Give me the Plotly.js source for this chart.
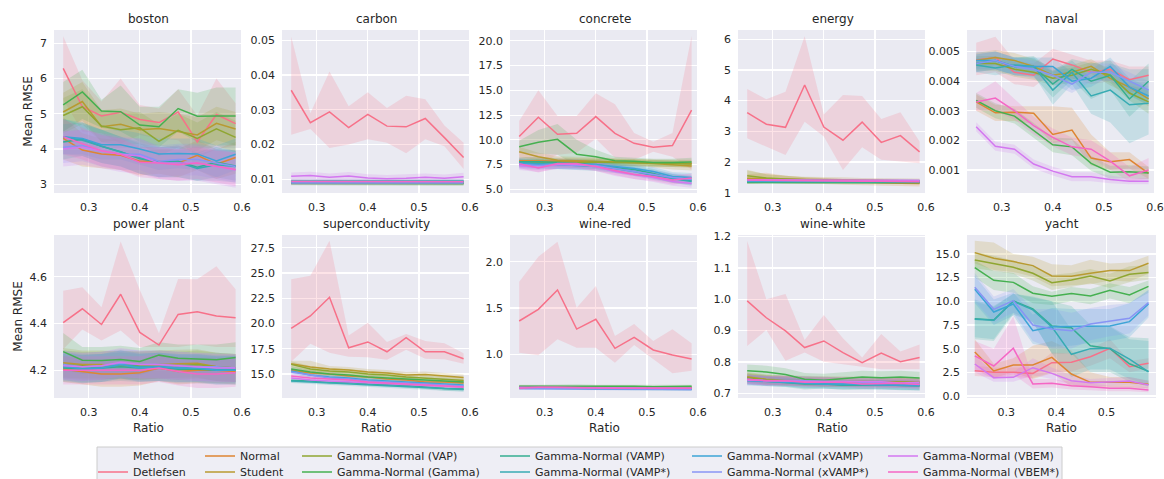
<!DOCTYPE html>
<html>
<head>
<meta charset="utf-8">
<script src="https://cdn.plot.ly/plotly-3.0.1.min.js"></script>
<style>html,body{margin:0;padding:0;background:#fff}</style>
</head>
<body>
<div id="chart" style="width:1164px;height:479px"></div>
<script>
// Ratio values (x) shared by most datasets; yacht uses its own grid
const ratio = [0.25, 0.2875, 0.325, 0.3625, 0.4, 0.4375, 0.475, 0.5125, 0.55, 0.5875];
const ratioYacht = [0.237, 0.275, 0.314, 0.353, 0.391, 0.430, 0.468, 0.507, 0.546, 0.584];

const methods = ["Detlefsen", "Normal", "Student", "Gamma-Normal (VAP)", "Gamma-Normal (Gamma)",
  "Gamma-Normal (VAMP)", "Gamma-Normal (VAMP*)", "Gamma-Normal (xVAMP)", "Gamma-Normal (xVAMP*)",
  "Gamma-Normal (VBEM)", "Gamma-Normal (VBEM*)"];

// Rows of every matrix below follow the order of `methods`
const bostonMean = [
  [6.29, 5.2, 4.94, 5.04, 4.84, 4.75, 5.05, 4.2, 4.98, 4.72],
  [4.3, 3.97, 3.86, 3.82, 3.65, 3.65, 3.6, 3.82, 3.57, 3.76],
  [5.05, 5.35, 4.63, 4.7, 4.55, 4.58, 4.5, 4.4, 4.73, 4.57],
  [4.95, 5.2, 4.65, 4.55, 4.6, 4.22, 4.53, 4.3, 4.57, 4.33],
  [5.25, 5.62, 5.08, 5.06, 4.68, 4.63, 5.15, 4.93, 4.94, 4.94],
  [4.2, 4.28, 4.08, 3.92, 3.72, 3.63, 3.65, 3.48, 3.62, 3.52],
  [4.35, 4.25, 4.08, 3.92, 3.75, 3.62, 3.62, 3.45, 3.55, 3.5],
  [4.35, 4.3, 4.12, 4.12, 4.0, 3.86, 3.87, 3.86, 3.66, 3.85],
  [4.05, 4.1, 3.95, 3.85, 3.85, 3.65, 3.7, 3.7, 3.6, 3.5],
  [4.0, 4.05, 3.95, 3.85, 3.8, 3.6, 3.6, 3.6, 3.5, 3.4],
  [4.35, 4.15, 3.95, 3.85, 3.62, 3.6, 3.55, 3.6, 3.5, 3.42]
];
const bostonLow = [
  [5.4, 4.5, 4.45, 4.15, 4.4, 4.3, 4.25, 3.75, 4.0, 4.1],
  [3.7, 3.5, 3.45, 3.4, 3.25, 3.3, 3.2, 3.4, 3.15, 3.3],
  [4.5, 4.8, 4.2, 4.25, 4.1, 4.1, 4.0, 3.95, 4.25, 4.1],
  [4.45, 4.7, 4.2, 4.1, 4.15, 3.8, 4.05, 3.85, 4.1, 3.9],
  [4.5, 4.85, 4.6, 4.5, 4.2, 4.05, 4.5, 4.2, 4.1, 4.1],
  [3.7, 3.8, 3.6, 3.5, 3.3, 3.2, 3.2, 3.1, 3.2, 3.1],
  [3.85, 3.8, 3.6, 3.5, 3.3, 3.2, 3.2, 3.1, 3.1, 3.05],
  [3.85, 3.85, 3.7, 3.7, 3.55, 3.4, 3.45, 3.4, 3.2, 3.4],
  [3.6, 3.65, 3.5, 3.4, 3.4, 3.2, 3.25, 3.25, 3.15, 3.05],
  [3.5, 3.55, 3.45, 3.35, 3.3, 3.15, 3.1, 3.1, 3.0, 2.9],
  [3.85, 3.7, 3.5, 3.4, 3.2, 3.15, 3.1, 3.15, 3.05, 2.95]
];
const bostonHigh = [
  [7.2, 5.95, 5.35, 6.0, 5.25, 5.15, 5.7, 4.95, 6.0, 5.3],
  [4.9, 4.45, 4.3, 4.25, 4.1, 4.0, 4.0, 4.25, 4.0, 4.2],
  [5.6, 5.9, 5.1, 5.15, 5.0, 5.05, 5.0, 4.9, 5.2, 5.05],
  [5.45, 5.7, 5.1, 5.0, 5.05, 4.7, 5.0, 4.75, 5.05, 4.8],
  [5.9, 6.25, 5.4, 5.8, 5.2, 5.2, 5.7, 5.6, 5.75, 5.75],
  [4.7, 4.75, 4.55, 4.35, 4.15, 4.05, 4.1, 3.9, 4.05, 3.95],
  [4.85, 4.7, 4.55, 4.35, 4.2, 4.05, 4.05, 3.85, 4.0, 3.95],
  [4.85, 4.75, 4.55, 4.55, 4.45, 4.3, 4.3, 4.3, 4.1, 4.3],
  [4.5, 4.55, 4.4, 4.3, 4.3, 4.1, 4.15, 4.15, 4.05, 3.95],
  [4.5, 4.55, 4.45, 4.35, 4.3, 4.05, 4.1, 4.1, 4.0, 3.9],
  [4.85, 4.6, 4.4, 4.3, 4.05, 4.05, 4.0, 4.05, 3.95, 3.9]
];

const carbonMean = [
  [0.0356, 0.0263, 0.0294, 0.0249, 0.0287, 0.0253, 0.0251, 0.0275, 0.0220, 0.0163],
  [0.0091, 0.0091, 0.0090, 0.0091, 0.0090, 0.0090, 0.0091, 0.0090, 0.0090, 0.0090],
  [0.0092, 0.0092, 0.0091, 0.0092, 0.0091, 0.0091, 0.0091, 0.0091, 0.0091, 0.0091],
  [0.0090, 0.0090, 0.0090, 0.0090, 0.0089, 0.0089, 0.0089, 0.0089, 0.0089, 0.0089],
  [0.0089, 0.0089, 0.0089, 0.0089, 0.0089, 0.0088, 0.0088, 0.0088, 0.0088, 0.0088],
  [0.0093, 0.0093, 0.0093, 0.0093, 0.0093, 0.0093, 0.0093, 0.0093, 0.0093, 0.0094],
  [0.0095, 0.0095, 0.0095, 0.0095, 0.0095, 0.0095, 0.0095, 0.0095, 0.0095, 0.0095],
  [0.0092, 0.0092, 0.0092, 0.0092, 0.0092, 0.0092, 0.0092, 0.0092, 0.0092, 0.0092],
  [0.0090, 0.0090, 0.0090, 0.0090, 0.0090, 0.0090, 0.0090, 0.0090, 0.0090, 0.0090],
  [0.0109, 0.0111, 0.0106, 0.0110, 0.0104, 0.0102, 0.0103, 0.0106, 0.0103, 0.0108],
  [0.0094, 0.0094, 0.0093, 0.0094, 0.0093, 0.0093, 0.0093, 0.0093, 0.0093, 0.0093]
];
const carbonLow = [
  [0.0228, 0.0245, 0.0190, 0.0200, 0.0215, 0.0205, 0.0175, 0.0215, 0.0195, 0.0130],
  [0.0085, 0.0085, 0.0084, 0.0085, 0.0084, 0.0084, 0.0085, 0.0084, 0.0084, 0.0084],
  [0.0086, 0.0086, 0.0085, 0.0086, 0.0085, 0.0085, 0.0085, 0.0085, 0.0085, 0.0085],
  [0.0084, 0.0084, 0.0084, 0.0084, 0.0083, 0.0083, 0.0083, 0.0083, 0.0083, 0.0083],
  [0.0083, 0.0083, 0.0083, 0.0083, 0.0083, 0.0082, 0.0082, 0.0082, 0.0082, 0.0082],
  [0.0087, 0.0087, 0.0087, 0.0087, 0.0087, 0.0087, 0.0087, 0.0087, 0.0087, 0.0088],
  [0.0089, 0.0089, 0.0089, 0.0089, 0.0089, 0.0089, 0.0089, 0.0089, 0.0089, 0.0089],
  [0.0086, 0.0086, 0.0086, 0.0086, 0.0086, 0.0086, 0.0086, 0.0086, 0.0086, 0.0086],
  [0.0084, 0.0084, 0.0084, 0.0084, 0.0084, 0.0084, 0.0084, 0.0084, 0.0084, 0.0084],
  [0.0098, 0.0100, 0.0095, 0.0099, 0.0093, 0.0091, 0.0092, 0.0095, 0.0092, 0.0097],
  [0.0088, 0.0088, 0.0087, 0.0088, 0.0087, 0.0087, 0.0087, 0.0087, 0.0087, 0.0087]
];
const carbonHigh = [
  [0.0510, 0.0290, 0.0410, 0.0310, 0.0350, 0.0305, 0.0340, 0.0330, 0.0255, 0.0205],
  [0.0097, 0.0097, 0.0096, 0.0097, 0.0096, 0.0096, 0.0097, 0.0096, 0.0096, 0.0096],
  [0.0098, 0.0098, 0.0097, 0.0098, 0.0097, 0.0097, 0.0097, 0.0097, 0.0097, 0.0097],
  [0.0096, 0.0096, 0.0096, 0.0096, 0.0095, 0.0095, 0.0095, 0.0095, 0.0095, 0.0095],
  [0.0095, 0.0095, 0.0095, 0.0095, 0.0095, 0.0094, 0.0094, 0.0094, 0.0094, 0.0094],
  [0.0099, 0.0099, 0.0099, 0.0099, 0.0099, 0.0099, 0.0099, 0.0099, 0.0099, 0.0100],
  [0.0101, 0.0101, 0.0101, 0.0101, 0.0101, 0.0101, 0.0101, 0.0101, 0.0101, 0.0101],
  [0.0098, 0.0098, 0.0098, 0.0098, 0.0098, 0.0098, 0.0098, 0.0098, 0.0098, 0.0098],
  [0.0096, 0.0096, 0.0096, 0.0096, 0.0096, 0.0096, 0.0096, 0.0096, 0.0096, 0.0096],
  [0.0120, 0.0122, 0.0117, 0.0121, 0.0115, 0.0113, 0.0114, 0.0117, 0.0114, 0.0119],
  [0.0100, 0.0100, 0.0099, 0.0100, 0.0099, 0.0099, 0.0099, 0.0099, 0.0099, 0.0099]
];

const concreteMean = [
  [10.33, 12.28, 10.56, 10.66, 12.35, 10.66, 9.65, 9.25, 9.42, 13.0],
  [7.9, 7.9, 7.85, 7.85, 7.8, 7.75, 7.7, 7.65, 7.6, 7.6],
  [8.8, 8.3, 7.95, 7.9, 7.85, 7.8, 7.7, 7.6, 7.45, 7.35],
  [7.7, 7.75, 7.75, 7.7, 7.75, 7.7, 7.7, 7.65, 7.6, 7.55],
  [9.3, 9.75, 10.05, 8.55, 8.3, 7.9, 7.85, 7.7, 7.7, 7.75],
  [7.8, 7.8, 7.7, 7.6, 7.5, 7.2, 7.0, 6.6, 6.1, 5.9],
  [7.7, 7.6, 7.5, 7.4, 7.3, 7.1, 6.8, 6.4, 6.1, 5.8],
  [7.6, 7.5, 7.5, 7.5, 7.5, 7.3, 7.1, 6.8, 6.3, 6.2],
  [7.5, 7.4, 7.5, 7.4, 7.4, 7.1, 6.8, 6.5, 6.2, 6.0],
  [7.4, 7.2, 7.5, 7.5, 7.3, 6.8, 6.5, 6.2, 5.8, 5.6],
  [7.6, 7.15, 7.6, 7.6, 7.3, 6.9, 6.5, 6.3, 5.95, 6.15]
];
const concreteLow = [
  [7.8, 7.5, 8.5, 8.7, 10.1, 8.2, 8.0, 8.8, 8.3, 7.0],
  [7.55, 7.55, 7.5, 7.5, 7.45, 7.4, 7.35, 7.3, 7.2, 7.2],
  [8.3, 7.9, 7.55, 7.5, 7.45, 7.4, 7.3, 7.2, 7.0, 6.9],
  [7.35, 7.4, 7.4, 7.35, 7.4, 7.35, 7.35, 7.3, 7.25, 7.2],
  [8.7, 8.6, 8.5, 7.4, 7.6, 7.5, 7.5, 7.3, 7.3, 7.3],
  [7.35, 7.35, 7.25, 7.15, 7.05, 6.75, 6.55, 6.15, 5.65, 5.45],
  [7.25, 7.15, 7.05, 6.95, 6.85, 6.65, 6.35, 5.95, 5.65, 5.35],
  [7.15, 7.05, 7.05, 7.05, 7.05, 6.85, 6.65, 6.35, 5.85, 5.75],
  [7.05, 6.95, 7.05, 6.95, 6.95, 6.65, 6.35, 6.05, 5.75, 5.55],
  [6.95, 6.75, 7.05, 7.05, 6.85, 6.35, 6.05, 5.75, 5.35, 5.15],
  [7.15, 6.7, 7.15, 7.15, 6.85, 6.45, 6.05, 5.85, 5.5, 5.7]
];
const concreteHigh = [
  [11.9, 15.0, 12.4, 12.4, 14.7, 13.6, 10.7, 9.8, 10.7, 20.5],
  [8.25, 8.25, 8.2, 8.2, 8.15, 8.1, 8.05, 8.0, 8.0, 8.0],
  [9.3, 8.7, 8.35, 8.3, 8.25, 8.2, 8.1, 8.0, 7.9, 7.8],
  [8.05, 8.1, 8.1, 8.05, 8.1, 8.05, 8.05, 8.0, 7.95, 7.9],
  [9.9, 11.0, 11.6, 10.0, 9.0, 8.3, 8.2, 8.1, 8.1, 8.2],
  [8.25, 8.25, 8.15, 8.05, 7.95, 7.65, 7.45, 7.05, 6.55, 6.35],
  [8.15, 8.05, 7.95, 7.85, 7.75, 7.55, 7.25, 6.85, 6.55, 6.25],
  [8.05, 7.95, 7.95, 7.95, 7.95, 7.75, 7.55, 7.25, 6.75, 6.65],
  [7.95, 7.85, 7.95, 7.85, 7.85, 7.55, 7.25, 6.95, 6.65, 6.45],
  [7.85, 7.65, 7.95, 7.95, 7.75, 7.25, 6.95, 6.65, 6.25, 6.05],
  [8.05, 7.6, 8.05, 8.05, 7.75, 7.35, 6.95, 6.75, 6.4, 6.6]
];

const energyMean = [
  [3.61, 3.23, 3.13, 4.51, 3.14, 2.71, 3.30, 2.64, 2.86, 2.33],
  [1.45, 1.45, 1.42, 1.40, 1.38, 1.35, 1.33, 1.32, 1.31, 1.30],
  [1.47, 1.45, 1.44, 1.43, 1.42, 1.41, 1.40, 1.39, 1.38, 1.38],
  [1.55, 1.48, 1.45, 1.42, 1.40, 1.38, 1.37, 1.37, 1.36, 1.36],
  [1.33, 1.33, 1.33, 1.32, 1.32, 1.33, 1.33, 1.32, 1.32, 1.32],
  [1.35, 1.35, 1.34, 1.34, 1.33, 1.33, 1.34, 1.34, 1.35, 1.35],
  [1.37, 1.37, 1.36, 1.36, 1.35, 1.35, 1.36, 1.36, 1.36, 1.36],
  [1.38, 1.38, 1.38, 1.39, 1.40, 1.40, 1.38, 1.38, 1.38, 1.37],
  [1.40, 1.40, 1.39, 1.39, 1.39, 1.38, 1.38, 1.38, 1.38, 1.38],
  [1.42, 1.42, 1.41, 1.41, 1.41, 1.40, 1.40, 1.40, 1.40, 1.40],
  [1.41, 1.40, 1.40, 1.40, 1.38, 1.38, 1.37, 1.37, 1.37, 1.36]
];
const energyLow = [
  [2.77, 2.50, 2.23, 3.31, 2.83, 1.74, 2.48, 2.07, 2.01, 1.96],
  [1.30, 1.32, 1.30, 1.30, 1.28, 1.26, 1.24, 1.23, 1.22, 1.20],
  [1.30, 1.33, 1.34, 1.34, 1.33, 1.32, 1.32, 1.31, 1.30, 1.30],
  [1.38, 1.36, 1.35, 1.34, 1.33, 1.32, 1.31, 1.31, 1.30, 1.30],
  [1.29, 1.29, 1.29, 1.28, 1.28, 1.29, 1.29, 1.28, 1.28, 1.28],
  [1.31, 1.31, 1.30, 1.30, 1.29, 1.29, 1.30, 1.30, 1.31, 1.31],
  [1.32, 1.32, 1.31, 1.31, 1.30, 1.30, 1.31, 1.31, 1.31, 1.31],
  [1.33, 1.33, 1.33, 1.34, 1.35, 1.35, 1.33, 1.33, 1.33, 1.32],
  [1.35, 1.35, 1.34, 1.34, 1.34, 1.33, 1.33, 1.33, 1.33, 1.33],
  [1.37, 1.37, 1.36, 1.36, 1.36, 1.35, 1.35, 1.35, 1.35, 1.35],
  [1.36, 1.35, 1.35, 1.35, 1.33, 1.33, 1.32, 1.32, 1.32, 1.31]
];
const energyHigh = [
  [4.38, 4.04, 4.29, 6.10, 3.55, 4.18, 4.15, 3.40, 3.62, 2.67],
  [1.60, 1.65, 1.55, 1.50, 1.48, 1.45, 1.43, 1.42, 1.41, 1.40],
  [1.75, 1.60, 1.55, 1.52, 1.50, 1.50, 1.48, 1.47, 1.46, 1.46],
  [1.72, 1.60, 1.55, 1.50, 1.47, 1.45, 1.43, 1.43, 1.42, 1.42],
  [1.37, 1.37, 1.37, 1.36, 1.36, 1.37, 1.37, 1.36, 1.36, 1.36],
  [1.39, 1.39, 1.38, 1.38, 1.37, 1.37, 1.38, 1.38, 1.39, 1.39],
  [1.42, 1.42, 1.41, 1.41, 1.40, 1.40, 1.41, 1.41, 1.41, 1.41],
  [1.43, 1.43, 1.43, 1.44, 1.45, 1.45, 1.43, 1.43, 1.43, 1.42],
  [1.45, 1.45, 1.44, 1.44, 1.44, 1.43, 1.43, 1.43, 1.43, 1.43],
  [1.47, 1.47, 1.46, 1.46, 1.46, 1.45, 1.45, 1.45, 1.45, 1.45],
  [1.46, 1.45, 1.45, 1.45, 1.43, 1.43, 1.42, 1.42, 1.42, 1.41]
];

const navalMean = [
  [0.00472, 0.00480, 0.00430, 0.00420, 0.00475, 0.00455, 0.00430, 0.00440, 0.00405, 0.00420],
  [0.00330, 0.00293, 0.00295, 0.00292, 0.00220, 0.00235, 0.00140, 0.00128, 0.00135, 0.00088],
  [0.00470, 0.00480, 0.00470, 0.00450, 0.00420, 0.00430, 0.00450, 0.00410, 0.00380, 0.00340],
  [0.00460, 0.00460, 0.00440, 0.00430, 0.00410, 0.00420, 0.00440, 0.00420, 0.00360, 0.00330],
  [0.00335, 0.00300, 0.00282, 0.00232, 0.00185, 0.00178, 0.00122, 0.00092, 0.00094, 0.00090],
  [0.00460, 0.00470, 0.00450, 0.00450, 0.00390, 0.00440, 0.00400, 0.00420, 0.00340, 0.00400],
  [0.00455, 0.00445, 0.00455, 0.00450, 0.00370, 0.00430, 0.00350, 0.00370, 0.00320, 0.00325],
  [0.00470, 0.00470, 0.00450, 0.00450, 0.00450, 0.00400, 0.00410, 0.00450, 0.00380, 0.00350],
  [0.00460, 0.00470, 0.00450, 0.00440, 0.00420, 0.00390, 0.00430, 0.00430, 0.00400, 0.00370],
  [0.00246, 0.00180, 0.00170, 0.00120, 0.00096, 0.00077, 0.00077, 0.00068, 0.00062, 0.00062],
  [0.00330, 0.00343, 0.00300, 0.00250, 0.00210, 0.00178, 0.00170, 0.00130, 0.00080, 0.00100]
];
const navalLow = [
  [0.00420, 0.00430, 0.00390, 0.00380, 0.00430, 0.00410, 0.00390, 0.00400, 0.00360, 0.00380],
  [0.00300, 0.00265, 0.00265, 0.00255, 0.00190, 0.00200, 0.00115, 0.00100, 0.00105, 0.00070],
  [0.00445, 0.00455, 0.00445, 0.00425, 0.00395, 0.00405, 0.00425, 0.00385, 0.00355, 0.00315],
  [0.00435, 0.00435, 0.00415, 0.00405, 0.00385, 0.00395, 0.00415, 0.00395, 0.00335, 0.00290],
  [0.00310, 0.00275, 0.00257, 0.00207, 0.00160, 0.00150, 0.00097, 0.00070, 0.00072, 0.00068],
  [0.00430, 0.00440, 0.00420, 0.00415, 0.00345, 0.00405, 0.00340, 0.00370, 0.00280, 0.00340],
  [0.00430, 0.00420, 0.00430, 0.00420, 0.00320, 0.00390, 0.00290, 0.00260, 0.00190, 0.00220],
  [0.00440, 0.00440, 0.00420, 0.00420, 0.00420, 0.00370, 0.00380, 0.00420, 0.00350, 0.00320],
  [0.00430, 0.00440, 0.00420, 0.00410, 0.00390, 0.00360, 0.00400, 0.00400, 0.00370, 0.00340],
  [0.00231, 0.00165, 0.00155, 0.00105, 0.00081, 0.00062, 0.00062, 0.00055, 0.00052, 0.00052],
  [0.00300, 0.00300, 0.00270, 0.00220, 0.00180, 0.00150, 0.00140, 0.00100, 0.00060, 0.00070]
];
const navalHigh = [
  [0.00530, 0.00550, 0.00470, 0.00460, 0.00510, 0.00490, 0.00470, 0.00470, 0.00450, 0.00450],
  [0.00355, 0.00320, 0.00315, 0.00315, 0.00315, 0.00310, 0.00220, 0.00160, 0.00160, 0.00110],
  [0.00495, 0.00505, 0.00495, 0.00475, 0.00445, 0.00455, 0.00475, 0.00435, 0.00405, 0.00365],
  [0.00485, 0.00485, 0.00465, 0.00455, 0.00435, 0.00445, 0.00465, 0.00445, 0.00385, 0.00370],
  [0.00360, 0.00325, 0.00307, 0.00257, 0.00210, 0.00206, 0.00147, 0.00114, 0.00116, 0.00112],
  [0.00490, 0.00500, 0.00480, 0.00485, 0.00435, 0.00475, 0.00460, 0.00470, 0.00400, 0.00460],
  [0.00480, 0.00470, 0.00480, 0.00480, 0.00430, 0.00470, 0.00410, 0.00460, 0.00440, 0.00440],
  [0.00500, 0.00500, 0.00480, 0.00480, 0.00480, 0.00430, 0.00440, 0.00480, 0.00410, 0.00380],
  [0.00490, 0.00500, 0.00480, 0.00470, 0.00450, 0.00420, 0.00460, 0.00460, 0.00430, 0.00400],
  [0.00261, 0.00195, 0.00185, 0.00135, 0.00111, 0.00092, 0.00092, 0.00081, 0.00072, 0.00072],
  [0.00360, 0.00400, 0.00340, 0.00280, 0.00240, 0.00210, 0.00200, 0.00160, 0.00110, 0.00140]
];

const powerMean = [
  [4.404, 4.463, 4.396, 4.525, 4.362, 4.308, 4.439, 4.45, 4.432, 4.425],
  [4.205, 4.195, 4.185, 4.185, 4.19, 4.21, 4.195, 4.2, 4.2, 4.195],
  [4.232, 4.225, 4.225, 4.22, 4.22, 4.225, 4.228, 4.23, 4.215, 4.21],
  [4.225, 4.22, 4.22, 4.225, 4.22, 4.225, 4.22, 4.225, 4.215, 4.21],
  [4.28, 4.243, 4.242, 4.246, 4.238, 4.265, 4.252, 4.25, 4.245, 4.255],
  [4.21, 4.205, 4.21, 4.215, 4.21, 4.215, 4.205, 4.205, 4.2, 4.2],
  [4.215, 4.21, 4.21, 4.225, 4.215, 4.215, 4.21, 4.21, 4.205, 4.205],
  [4.22, 4.205, 4.21, 4.225, 4.21, 4.215, 4.21, 4.21, 4.2, 4.2],
  [4.225, 4.215, 4.22, 4.23, 4.225, 4.225, 4.22, 4.215, 4.215, 4.21],
  [4.22, 4.215, 4.22, 4.235, 4.225, 4.225, 4.22, 4.215, 4.21, 4.21],
  [4.2, 4.2, 4.2, 4.2, 4.2, 4.21, 4.195, 4.185, 4.185, 4.19]
];
const powerLow = [
  [4.29, 4.375, 4.327, 4.37, 4.30, 4.30, 4.30, 4.31, 4.30, 4.30],
  [4.15, 4.14, 4.13, 4.13, 4.135, 4.155, 4.14, 4.145, 4.145, 4.14],
  [4.17, 4.165, 4.165, 4.16, 4.16, 4.165, 4.168, 4.17, 4.155, 4.15],
  [4.165, 4.16, 4.16, 4.165, 4.16, 4.165, 4.16, 4.165, 4.155, 4.15],
  [4.2, 4.185, 4.185, 4.19, 4.18, 4.205, 4.195, 4.19, 4.185, 4.19],
  [4.15, 4.145, 4.15, 4.155, 4.15, 4.155, 4.145, 4.145, 4.14, 4.14],
  [4.155, 4.15, 4.15, 4.165, 4.155, 4.155, 4.15, 4.15, 4.145, 4.145],
  [4.16, 4.145, 4.15, 4.165, 4.15, 4.155, 4.15, 4.15, 4.14, 4.14],
  [4.165, 4.155, 4.16, 4.17, 4.165, 4.165, 4.16, 4.155, 4.155, 4.15],
  [4.16, 4.155, 4.16, 4.175, 4.165, 4.165, 4.16, 4.155, 4.15, 4.15],
  [4.14, 4.14, 4.14, 4.14, 4.14, 4.15, 4.135, 4.125, 4.125, 4.13]
];
const powerHigh = [
  [4.54, 4.555, 4.47, 4.75, 4.543, 4.358, 4.59, 4.589, 4.645, 4.546],
  [4.26, 4.25, 4.24, 4.24, 4.245, 4.265, 4.25, 4.255, 4.255, 4.25],
  [4.295, 4.285, 4.285, 4.28, 4.28, 4.285, 4.288, 4.29, 4.275, 4.27],
  [4.285, 4.28, 4.28, 4.285, 4.28, 4.285, 4.28, 4.285, 4.275, 4.27],
  [4.36, 4.3, 4.3, 4.305, 4.295, 4.32, 4.31, 4.31, 4.31, 4.32],
  [4.27, 4.265, 4.27, 4.275, 4.27, 4.275, 4.265, 4.265, 4.26, 4.26],
  [4.275, 4.27, 4.27, 4.285, 4.275, 4.275, 4.27, 4.27, 4.265, 4.265],
  [4.28, 4.265, 4.27, 4.285, 4.27, 4.275, 4.27, 4.27, 4.26, 4.26],
  [4.285, 4.275, 4.28, 4.29, 4.285, 4.285, 4.28, 4.275, 4.275, 4.27],
  [4.28, 4.275, 4.28, 4.295, 4.285, 4.285, 4.28, 4.275, 4.27, 4.27],
  [4.26, 4.26, 4.26, 4.26, 4.26, 4.27, 4.255, 4.245, 4.245, 4.25]
];

const superMean = [
  [19.52, 20.74, 22.59, 17.6, 18.17, 17.2, 18.6, 17.2, 17.2, 16.5],
  [15.4, 15.1, 15.0, 14.8, 14.7, 14.5, 14.4, 14.2, 14.2, 14.1],
  [16.0, 15.7, 15.5, 15.4, 15.2, 15.1, 14.9, 14.95, 14.8, 14.65],
  [15.95, 15.5, 15.3, 15.2, 15.0, 14.9, 14.7, 14.6, 14.5, 14.35],
  [15.5, 15.2, 15.0, 14.9, 14.7, 14.6, 14.45, 14.4, 14.3, 14.2],
  [14.35, 14.3, 14.15, 14.15, 14.0, 13.95, 13.85, 13.7, 13.55, 13.5],
  [14.3, 14.2, 14.1, 14.05, 13.95, 13.85, 13.75, 13.6, 13.5, 13.45],
  [15.3, 14.9, 14.7, 14.6, 14.4, 14.3, 14.2, 14.1, 14.0, 13.9],
  [15.2, 14.9, 14.6, 14.5, 14.3, 14.2, 14.1, 14.0, 13.9, 13.8],
  [14.6, 14.4, 14.3, 14.2, 14.1, 14.0, 13.9, 13.85, 13.8, 13.7],
  [14.8, 14.6, 14.5, 14.4, 14.2, 14.1, 14.0, 13.9, 13.8, 13.7]
];
const superLow = [
  [16.2, 18.0, 17.1, 16.7, 16.65, 16.4, 17.4, 16.5, 16.45, 16.0],
  [15.15, 14.85, 14.75, 14.55, 14.45, 14.25, 14.15, 13.95, 13.95, 13.85],
  [15.7, 15.3, 15.2, 15.1, 14.9, 14.8, 14.6, 14.65, 14.5, 14.35],
  [15.65, 15.2, 15.0, 14.9, 14.7, 14.6, 14.4, 14.3, 14.2, 14.05],
  [15.25, 14.95, 14.75, 14.65, 14.45, 14.35, 14.2, 14.15, 14.05, 13.95],
  [14.15, 14.1, 13.95, 13.95, 13.8, 13.75, 13.65, 13.5, 13.35, 13.3],
  [14.1, 14.0, 13.9, 13.85, 13.75, 13.65, 13.55, 13.4, 13.3, 13.25],
  [15.05, 14.65, 14.45, 14.35, 14.15, 14.05, 13.95, 13.85, 13.75, 13.65],
  [14.95, 14.65, 14.35, 14.25, 14.05, 13.95, 13.85, 13.75, 13.65, 13.55],
  [14.4, 14.2, 14.1, 14.0, 13.9, 13.8, 13.7, 13.65, 13.6, 13.5],
  [14.6, 14.4, 14.3, 14.2, 14.0, 13.9, 13.8, 13.7, 13.6, 13.5]
];
const superHigh = [
  [24.37, 24.73, 28.2, 18.8, 20.08, 18.17, 18.96, 18.27, 18.03, 17.05],
  [15.65, 15.35, 15.25, 15.05, 14.95, 14.75, 14.65, 14.45, 14.45, 14.35],
  [16.3, 16.3, 15.8, 15.7, 15.5, 15.4, 15.2, 15.25, 15.1, 14.95],
  [16.25, 15.8, 15.6, 15.5, 15.3, 15.2, 15.0, 14.9, 14.8, 14.65],
  [15.75, 15.45, 15.25, 15.15, 14.95, 14.85, 14.7, 14.65, 14.55, 14.45],
  [14.55, 14.5, 14.35, 14.35, 14.2, 14.15, 14.05, 13.9, 13.75, 13.7],
  [14.5, 14.4, 14.3, 14.25, 14.15, 14.05, 13.95, 13.8, 13.7, 13.65],
  [15.55, 15.15, 14.95, 14.85, 14.65, 14.55, 14.45, 14.35, 14.25, 14.15],
  [15.45, 15.15, 14.85, 14.75, 14.55, 14.45, 14.35, 14.25, 14.15, 14.05],
  [14.8, 14.6, 14.5, 14.4, 14.3, 14.2, 14.1, 14.05, 14.0, 13.9],
  [15.0, 14.8, 14.7, 14.6, 14.4, 14.3, 14.2, 14.1, 14.0, 13.9]
];

const wineRedMean = [
  [1.36, 1.486, 1.694, 1.273, 1.378, 1.065, 1.183, 1.047, 0.993, 0.95],
  [0.64, 0.645, 0.645, 0.64, 0.64, 0.638, 0.636, 0.635, 0.635, 0.634],
  [0.645, 0.645, 0.645, 0.642, 0.642, 0.64, 0.64, 0.638, 0.638, 0.637],
  [0.648, 0.65, 0.65, 0.648, 0.647, 0.645, 0.645, 0.644, 0.645, 0.645],
  [0.655, 0.655, 0.655, 0.66, 0.655, 0.655, 0.655, 0.65, 0.655, 0.655],
  [0.64, 0.64, 0.638, 0.636, 0.634, 0.632, 0.63, 0.629, 0.628, 0.627],
  [0.638, 0.638, 0.636, 0.634, 0.632, 0.63, 0.628, 0.627, 0.626, 0.625],
  [0.635, 0.636, 0.634, 0.632, 0.63, 0.628, 0.627, 0.625, 0.624, 0.623],
  [0.632, 0.633, 0.632, 0.63, 0.628, 0.626, 0.625, 0.624, 0.623, 0.622],
  [0.645, 0.645, 0.644, 0.642, 0.64, 0.639, 0.638, 0.637, 0.636, 0.636],
  [0.633, 0.645, 0.645, 0.638, 0.638, 0.635, 0.635, 0.635, 0.635, 0.635]
];
const wineRedLow = [
  [1.018, 0.99, 1.162, 1.072, 1.072, 0.91, 1.10, 0.95, 0.795, 0.824],
  [0.625, 0.63, 0.63, 0.625, 0.625, 0.623, 0.621, 0.62, 0.62, 0.619],
  [0.63, 0.63, 0.63, 0.627, 0.627, 0.625, 0.625, 0.623, 0.623, 0.622],
  [0.633, 0.635, 0.635, 0.633, 0.632, 0.63, 0.63, 0.629, 0.63, 0.63],
  [0.638, 0.638, 0.638, 0.643, 0.638, 0.638, 0.638, 0.633, 0.638, 0.638],
  [0.625, 0.625, 0.623, 0.621, 0.619, 0.617, 0.615, 0.614, 0.613, 0.612],
  [0.623, 0.623, 0.621, 0.619, 0.617, 0.615, 0.613, 0.612, 0.611, 0.61],
  [0.62, 0.621, 0.619, 0.617, 0.615, 0.613, 0.612, 0.61, 0.609, 0.608],
  [0.617, 0.618, 0.617, 0.615, 0.613, 0.611, 0.61, 0.609, 0.608, 0.607],
  [0.63, 0.63, 0.629, 0.627, 0.625, 0.624, 0.623, 0.622, 0.621, 0.621],
  [0.618, 0.63, 0.63, 0.623, 0.623, 0.62, 0.62, 0.62, 0.62, 0.62]
];
const wineRedHigh = [
  [1.784, 2.054, 2.216, 1.504, 1.737, 1.198, 1.327, 1.144, 1.27, 1.12],
  [0.655, 0.66, 0.66, 0.655, 0.655, 0.653, 0.651, 0.65, 0.65, 0.649],
  [0.66, 0.66, 0.66, 0.657, 0.657, 0.655, 0.655, 0.653, 0.653, 0.652],
  [0.663, 0.665, 0.665, 0.663, 0.662, 0.66, 0.66, 0.659, 0.66, 0.66],
  [0.672, 0.672, 0.672, 0.677, 0.672, 0.672, 0.672, 0.667, 0.672, 0.672],
  [0.655, 0.655, 0.653, 0.651, 0.649, 0.647, 0.645, 0.644, 0.643, 0.642],
  [0.653, 0.653, 0.651, 0.649, 0.647, 0.645, 0.643, 0.642, 0.641, 0.64],
  [0.65, 0.651, 0.649, 0.647, 0.645, 0.643, 0.642, 0.64, 0.639, 0.638],
  [0.647, 0.648, 0.647, 0.645, 0.643, 0.641, 0.64, 0.639, 0.638, 0.637],
  [0.66, 0.66, 0.659, 0.657, 0.655, 0.654, 0.653, 0.652, 0.651, 0.651],
  [0.648, 0.66, 0.66, 0.653, 0.653, 0.65, 0.65, 0.65, 0.65, 0.65]
];

const wineWhiteMean = [
  [0.995, 0.941, 0.899, 0.846, 0.867, 0.830, 0.798, 0.828, 0.801, 0.814],
  [0.748, 0.742, 0.74, 0.737, 0.736, 0.735, 0.734, 0.734, 0.733, 0.733],
  [0.753, 0.745, 0.742, 0.74, 0.738, 0.737, 0.738, 0.737, 0.736, 0.735],
  [0.75, 0.743, 0.74, 0.738, 0.737, 0.737, 0.737, 0.736, 0.735, 0.735],
  [0.772, 0.768, 0.76, 0.745, 0.742, 0.747, 0.752, 0.75, 0.752, 0.749],
  [0.742, 0.738, 0.735, 0.73, 0.73, 0.726, 0.726, 0.728, 0.725, 0.724],
  [0.745, 0.74, 0.738, 0.735, 0.73, 0.727, 0.728, 0.728, 0.726, 0.725],
  [0.74, 0.737, 0.735, 0.732, 0.73, 0.73, 0.728, 0.727, 0.726, 0.725],
  [0.745, 0.74, 0.742, 0.74, 0.738, 0.735, 0.735, 0.735, 0.733, 0.73],
  [0.742, 0.74, 0.74, 0.738, 0.738, 0.737, 0.737, 0.737, 0.733, 0.735],
  [0.745, 0.74, 0.74, 0.735, 0.735, 0.735, 0.73, 0.73, 0.732, 0.728]
];
const wineWhiteLow = [
  [0.851, 0.902, 0.804, 0.830, 0.801, 0.794, 0.785, 0.777, 0.777, 0.777],
  [0.733, 0.727, 0.725, 0.722, 0.721, 0.72, 0.719, 0.719, 0.718, 0.718],
  [0.738, 0.73, 0.727, 0.725, 0.723, 0.722, 0.723, 0.722, 0.721, 0.72],
  [0.735, 0.728, 0.725, 0.723, 0.722, 0.722, 0.722, 0.721, 0.72, 0.72],
  [0.752, 0.748, 0.74, 0.725, 0.722, 0.727, 0.732, 0.73, 0.732, 0.729],
  [0.727, 0.723, 0.72, 0.712, 0.715, 0.711, 0.711, 0.713, 0.71, 0.709],
  [0.73, 0.725, 0.723, 0.715, 0.715, 0.712, 0.713, 0.713, 0.711, 0.71],
  [0.725, 0.722, 0.72, 0.717, 0.715, 0.715, 0.713, 0.712, 0.711, 0.71],
  [0.73, 0.725, 0.727, 0.725, 0.723, 0.72, 0.72, 0.72, 0.718, 0.715],
  [0.727, 0.725, 0.725, 0.723, 0.723, 0.722, 0.722, 0.722, 0.718, 0.72],
  [0.73, 0.725, 0.725, 0.72, 0.72, 0.72, 0.715, 0.715, 0.717, 0.713]
];
const wineWhiteHigh = [
  [1.186, 1.0, 1.017, 0.870, 0.950, 0.876, 0.814, 0.889, 0.833, 0.856],
  [0.763, 0.757, 0.755, 0.752, 0.751, 0.75, 0.749, 0.749, 0.748, 0.748],
  [0.768, 0.76, 0.757, 0.755, 0.753, 0.752, 0.753, 0.752, 0.751, 0.75],
  [0.765, 0.758, 0.755, 0.753, 0.752, 0.752, 0.752, 0.751, 0.75, 0.75],
  [0.792, 0.788, 0.78, 0.765, 0.762, 0.767, 0.772, 0.77, 0.772, 0.769],
  [0.757, 0.753, 0.75, 0.745, 0.745, 0.741, 0.741, 0.743, 0.74, 0.739],
  [0.76, 0.755, 0.753, 0.75, 0.745, 0.742, 0.743, 0.743, 0.741, 0.74],
  [0.755, 0.752, 0.75, 0.747, 0.745, 0.745, 0.743, 0.742, 0.741, 0.74],
  [0.76, 0.755, 0.757, 0.755, 0.753, 0.75, 0.75, 0.75, 0.748, 0.745],
  [0.757, 0.755, 0.755, 0.753, 0.753, 0.752, 0.752, 0.752, 0.748, 0.75],
  [0.76, 0.755, 0.755, 0.75, 0.75, 0.75, 0.745, 0.745, 0.747, 0.743]
];

const yachtMean = [
  [2.68, 2.5, 2.5, 2.39, 3.52, 3.56, 4.15, 5.04, 3.1, 3.45],
  [4.65, 2.64, 3.27, 3.27, 4.08, 2.32, 1.44, 1.44, 1.44, 1.23],
  [15.14, 14.54, 14.19, 13.77, 12.68, 12.64, 12.96, 13.24, 13.24, 14.01],
  [14.37, 14.01, 13.59, 12.96, 11.97, 12.25, 12.68, 12.15, 12.85, 13.03],
  [13.56, 12.22, 12.0, 10.85, 10.53, 10.81, 10.56, 11.16, 10.67, 11.58],
  [8.17, 8.03, 10.05, 9.2, 7.4, 7.2, 5.3, 5.0, 3.4, 2.6],
  [8.1, 8.0, 10.0, 9.1, 7.3, 4.4, 5.0, 5.05, 3.9, 2.55],
  [11.27, 8.87, 9.72, 6.9, 7.32, 7.32, 7.32, 7.39, 7.85, 9.72],
  [11.48, 9.15, 10.07, 7.5, 7.08, 6.9, 7.6, 7.92, 8.2, 9.86],
  [3.38, 1.94, 1.97, 2.99, 2.39, 1.62, 1.41, 1.51, 1.58, 1.16],
  [4.23, 3.17, 5.04, 1.27, 1.34, 1.09, 0.99, 0.81, 0.81, 0.63]
];
const yachtLow = [
  [2.1, 2.0, 2.0, 1.9, 2.5, 2.6, 3.2, 4.0, 2.5, 2.9],
  [3.3, 1.9, 2.5, 1.8, 2.4, 1.0, 0.9, 0.9, 0.9, 0.8],
  [14.0, 13.3, 13.1, 12.6, 11.6, 11.7, 11.8, 12.2, 12.1, 12.9],
  [13.5, 13.2, 12.9, 12.2, 11.2, 11.5, 11.9, 11.4, 12.0, 12.3],
  [12.5, 11.2, 10.9, 9.8, 9.6, 10.0, 9.7, 10.3, 9.8, 10.9],
  [6.0, 5.8, 8.6, 7.8, 4.5, 4.5, 2.5, 2.5, 1.5, 1.0],
  [6.2, 6.0, 8.8, 7.8, 4.5, 2.0, 2.8, 2.8, 1.8, 1.2],
  [9.8, 7.5, 8.5, 5.5, 5.2, 5.3, 5.6, 5.8, 6.2, 8.3],
  [10.0, 7.8, 8.8, 5.8, 5.0, 5.0, 5.9, 6.3, 6.6, 8.5],
  [2.5, 1.5, 1.5, 2.2, 1.8, 1.2, 1.0, 1.1, 1.2, 0.8],
  [2.8, 1.8, 2.3, 0.8, 0.9, 0.7, 0.6, 0.5, 0.5, 0.4]
];
const yachtHigh = [
  [3.2, 3.0, 3.0, 3.0, 4.6, 4.5, 5.0, 6.0, 3.7, 4.0],
  [6.0, 3.4, 4.0, 5.3, 5.8, 4.8, 2.5, 2.0, 2.0, 1.6],
  [16.4, 16.2, 15.0, 14.7, 13.9, 13.8, 14.4, 14.0, 14.1, 14.8],
  [15.2, 14.8, 14.3, 13.7, 12.8, 13.0, 13.4, 12.9, 13.7, 13.8],
  [14.3, 13.2, 13.0, 11.6, 11.0, 11.5, 11.3, 11.9, 11.5, 12.2],
  [10.2, 9.5, 10.8, 10.4, 10.0, 9.5, 7.5, 7.4, 6.2, 6.1],
  [10.0, 9.4, 10.8, 10.5, 10.0, 7.0, 7.3, 7.3, 6.0, 5.8],
  [12.7, 10.2, 10.9, 8.6, 9.3, 9.2, 9.2, 9.2, 9.8, 11.2],
  [13.0, 10.5, 11.3, 9.2, 9.2, 8.8, 9.3, 9.6, 9.8, 11.2],
  [4.2, 2.5, 2.5, 4.0, 3.0, 2.2, 1.8, 1.9, 2.0, 1.6],
  [5.8, 5.0, 8.4, 1.8, 1.8, 1.5, 1.3, 1.1, 1.1, 0.9]
];

// ---- styling ----
const palette = ["#f77189", "#de8532", "#b89a31", "#8fa631", "#45b050", "#34ae90",
  "#37abb3", "#3ca4d6", "#8894f4", "#d377f0", "#f566c5"];
const FONT = "DejaVu Sans, sans-serif";
const INK = "#262626";
const W = 1164, H = 479;

const panels = [
  {title: "boston", x: ratio, mean: bostonMean, low: bostonLow, high: bostonHigh, yr: [2.75, 7.38], dtick: 1, fmt: "d"},
  {title: "carbon", x: ratio, mean: carbonMean, low: carbonLow, high: carbonHigh, yr: [0.0061, 0.0529], dtick: 0.01, fmt: ".2f"},
  {title: "concrete", x: ratio, mean: concreteMean, low: concreteLow, high: concreteHigh, yr: [4.63, 21.1], dtick: 2.5, fmt: ".1f"},
  {title: "energy", x: ratio, mean: energyMean, low: energyLow, high: energyHigh, yr: [0.99, 6.3], dtick: 1, fmt: "d"},
  {title: "naval", x: ratio, mean: navalMean, low: navalLow, high: navalHigh, yr: [0.00022, 0.00573], dtick: 0.001, fmt: ".3f"},
  {title: "power plant", x: ratio, mean: powerMean, low: powerLow, high: powerHigh, yr: [4.082, 4.778], dtick: 0.2, fmt: ".1f"},
  {title: "superconductivity", x: ratio, mean: superMean, low: superLow, high: superHigh, yr: [12.62, 28.76], dtick: 2.5, fmt: ".1f"},
  {title: "wine-red", x: ratio, mean: wineRedMean, low: wineRedLow, high: wineRedHigh, yr: [0.529, 2.288], dtick: 0.5, fmt: ".1f"},
  {title: "wine-white", x: ratio, mean: wineWhiteMean, low: wineWhiteLow, high: wineWhiteHigh, yr: [0.685, 1.205], dtick: 0.1, fmt: ".1f"},
  {title: "yacht", x: ratioYacht, mean: yachtMean, low: yachtLow, high: yachtHigh, yr: [-0.21, 17.0], dtick: 2.5, fmt: ".1f", xr: [0.2215, 0.599]}
];

// Subplot frames in pixels
const colLeft = [54, 282, 510, 738, 967];
const rowTop = [30, 235];
const plotW = 189, plotH = 163;

function rgba(hex, a) {
  const n = parseInt(hex.slice(1), 16);
  return `rgba(${(n >> 16) & 255},${(n >> 8) & 255},${n & 255},${a})`;
}

const traces = [];
const layout = {
  width: W, height: H,
  margin: {l: 0, r: 0, t: 0, b: 0, autoexpand: false},
  paper_bgcolor: "#ffffff",
  plot_bgcolor: "#eaeaf2",
  font: {family: FONT, color: INK, size: 11},
  showlegend: true,
  annotations: [],
  shapes: []
};

panels.forEach((p, k) => {
  const row = Math.floor(k / 5), col = k % 5;
  const sfx = k === 0 ? "" : String(k + 1);
  const xa = "x" + sfx, ya = "y" + sfx;
  const left = colLeft[col], top = rowTop[row];

  layout["xaxis" + sfx] = {
    domain: [left / W, (left + plotW) / W],
    anchor: ya,
    range: p.xr || [0.232, 0.602],
    dtick: 0.1, tick0: 0, tickformat: ".1f",
    showgrid: true, gridcolor: "#ffffff", gridwidth: 1.2,
    zeroline: false, showline: false, ticks: "",
    tickfont: {size: 11, color: INK},
    ticklabelstandoff: 6
  };
  layout["yaxis" + sfx] = {
    domain: [1 - (top + plotH) / H, 1 - top / H],
    anchor: xa,
    range: p.yr,
    dtick: p.dtick, tick0: 0, tickformat: p.fmt,
    showgrid: true, gridcolor: "#ffffff", gridwidth: 1.2,
    zeroline: false, showline: false, ticks: "",
    tickfont: {size: 11, color: INK},
    ticklabelstandoff: 6,
    title: col === 0 ? {text: "Mean RMSE", font: {size: 12, color: INK}, standoff: 4} : {text: ""}
  };

  layout.annotations.push({
    text: p.title, xref: "paper", yref: "paper",
    x: (left + plotW / 2) / W, y: 1 - (top - 11) / H,
    xanchor: "center", yanchor: "middle", showarrow: false,
    font: {size: 12, color: INK}
  });
  // x-axis label under the bottom row
  if (row === 1) {
    layout.annotations.push({
      text: "Ratio", xref: "paper", yref: "paper",
      x: (left + plotW / 2) / W, y: 1 - (top + plotH + 30) / H,
      xanchor: "center", yanchor: "middle", showarrow: false,
      font: {size: 12, color: INK}
    });
  }

  // confidence bands first, so every line sits on top of all bands
  methods.forEach((m, s) => {
    traces.push({
      type: "scatter", mode: "lines", xaxis: xa, yaxis: ya,
      x: p.x.concat(p.x.slice().reverse()),
      y: p.low[s].concat(p.high[s].slice().reverse()),
      fill: "toself", fillcolor: rgba(palette[s], 0.2),
      line: {width: 0, color: rgba(palette[s], 0)},
      hoverinfo: "skip", showlegend: false
    });
  });
  methods.forEach((m, s) => {
    const entry = s + 1;
    traces.push({
      type: "scatter", mode: "lines", xaxis: xa, yaxis: ya,
      x: p.x, y: p.mean[s], name: m,
      line: {color: palette[s], width: 1.5},
      showlegend: k === 0,
      legend: "legend" + (entry + 1)
    });
  });
});

// Legend: title entry plus one entry per method, laid out column by column
traces.push({
  type: "scatter", mode: "lines", x: [null], y: [null], xaxis: "x", yaxis: "y",
  name: "Method", line: {color: "rgba(0,0,0,0)", width: 0},
  showlegend: true, legend: "legend", hoverinfo: "skip"
});
const legendTextX = [133, 240, 337, 535, 727, 923];
const legendRowY = [456, 472];
for (let e = 0; e < 12; e++) {
  const key = e === 0 ? "legend" : "legend" + (e + 1);
  layout[key] = {
    x: (legendTextX[Math.floor(e / 2)] - 40) / W,
    y: 1 - legendRowY[e % 2] / H,
    xanchor: "left", yanchor: "middle",
    bgcolor: "rgba(0,0,0,0)", borderwidth: 0,
    font: {family: FONT, size: 11, color: INK},
    orientation: "v"
  };
}
layout.shapes.push({
  type: "rect", xref: "paper", yref: "paper", layer: "below",
  x0: 97 / W, x1: 1062 / W, y0: 1 - 447 / H, y1: -0.05,
  fillcolor: "rgba(234,234,242,0.8)", line: {color: "#cccccc", width: 1}
});

Plotly.newPlot("chart", traces, layout, {displayModeBar: false, staticPlot: true});
</script>
</body>
</html>
